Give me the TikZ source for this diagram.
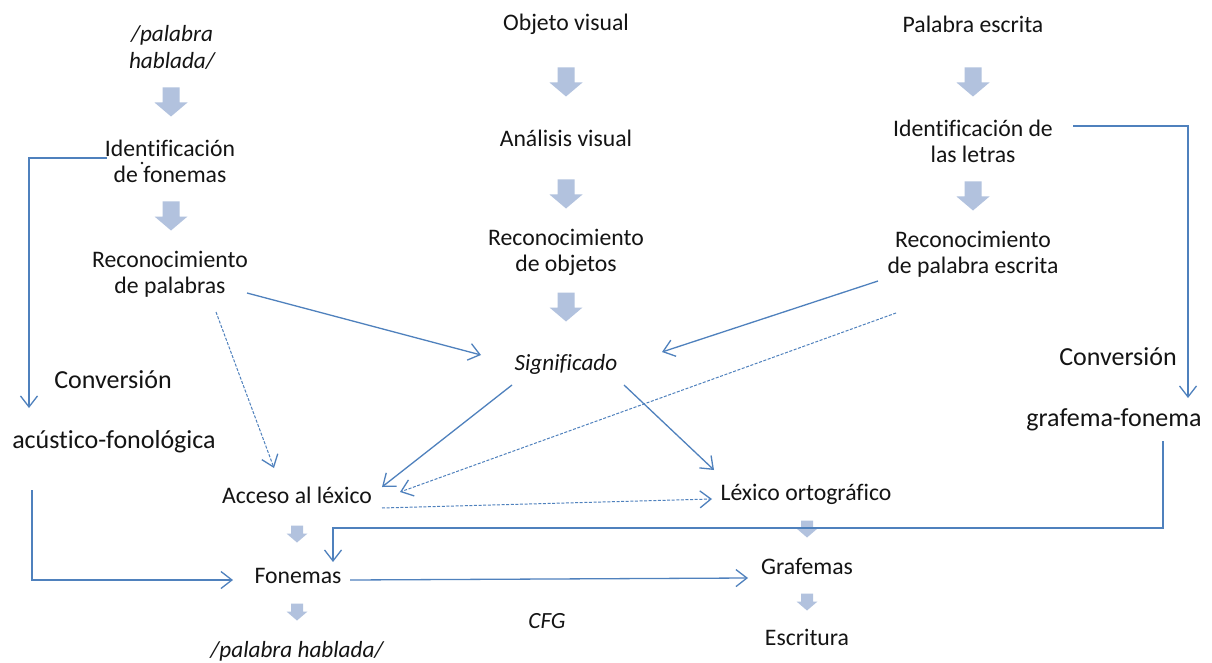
\documentclass[tikz,border=0pt]{standalone}
\usepackage{fontspec}
\setmainfont[Ligatures=NoCommon]{Carlito}
\usetikzlibrary{arrows.meta}
\definecolor{linecol}{RGB}{79,129,189}
\definecolor{blockcol}{RGB}{178,194,222}
\definecolor{txtcol}{RGB}{20,20,20}
\tikzset{
  lbl/.style={text=txtcol, align=center, inner sep=0pt, font=\fontsize{23.7}{26}\selectfont},
  lblit/.style={lbl, font=\fontsize{23.2}{27}\selectfont\itshape},
  lblbig/.style={lbl, font=\fontsize{26}{30}\selectfont},
  conn/.style={draw=linecol, line width=1.3pt, -{Straight Barb[length=11pt,width=17pt,line width=1.3pt]}},
  dconn/.style={conn, line width=1pt, dash pattern=on 3pt off 1.6pt},
  bigarrow/.pic={\fill[blockcol] (-8.5,-14.5) -- (8.5,-14.5) -- (8.5,0.5) -- (16.5,0.5) -- (0,14.5) -- (-16.5,0.5) -- (-8.5,0.5) -- cycle;},
  smallarrow/.pic={\fill[blockcol] (-6,-8.5) -- (6,-8.5) -- (6,-0.5) -- (10.5,-0.5) -- (0,8.5) -- (-10.5,-0.5) -- (-6,-0.5) -- cycle;}
}
\begin{document}
\begin{tikzpicture}[x=1pt,y=-1pt]
\useasboundingbox (0,0) rectangle (1212,663);
\fill[white] (0,0) rectangle (1212,663);
% left column
\node[lblit] (pal1) at (172,47) {/palabra\\hablada/};
\pic at (171,102) {bigarrow};
\node[lbl] (idf) at (170,161) {Identificación\\de fonemas};
\fill[txtcol] (142,163) circle (1.3);
\pic at (171,216) {bigarrow};
\node[lbl] (recp) at (170,274) {Reconocimiento\\de palabras};
% middle column
\node[lbl] (obj) at (566,24) {Objeto visual};
\pic at (566,82) {bigarrow};
\node[lbl] (anv) at (566,138) {Análisis visual};
\pic at (566,194) {bigarrow};
\node[lbl] (reco) at (566,252) {Reconocimiento\\de objetos};
\pic at (566,307) {bigarrow};
\node[lblit] (sig) at (566,364) {Significado};
% right column
\node[lbl] (pe) at (973,24) {Palabra escrita};
\pic at (973,82) {bigarrow};
\node[lbl] (idl) at (973,141) {Identificación de\\las letras};
\pic at (973,196) {bigarrow};
\node[lbl] (rpe) at (973,254) {Reconocimiento\\de palabra escrita};
% side labels
\node[lblbig] (conv1) at (113,380) {Conversión};
\node[lblbig] (acf) at (114,442) {acústico-fonológica};
\node[lblbig] (conv2) at (1118,357) {Conversión};
\node[lblbig] (gf) at (1114,420) {grafema-fonema};
% bottom
\node[lbl] (acc) at (297,495) {Acceso al léxico};
\pic at (297,534) {smallarrow};
\node[lbl] (fon) at (298,576) {Fonemas};
\pic at (297,612) {smallarrow};
\node[lblit] (pph) at (297,651) {/palabra hablada/};
\node[lbl] (lo) at (806,494) {Léxico ortográfico};
\pic at (807,529) {smallarrow};
\node[lbl] (graf) at (807,566) {Grafemas};
\pic at (807,602) {smallarrow};
\node[lbl] (esc) at (807,637) {Escritura};
\node[lblit] (cfg) at (547,621) {CFG};
% connectors
\draw[conn] ([shift={(77,19)}]recp.center) -- ([shift={(-85,-9)}]sig.center);
\draw[dconn] ([shift={(46,38)}]recp.center) -- ([shift={(-23,-27)}]acc.center);
\draw[conn] ([shift={(-54,21)}]sig.center) -- ([shift={(85,-8)}]acc.center);
\draw[conn] ([shift={(-95,27)}]rpe.center) -- ([shift={(96,-12)}]sig.center);
\draw[dconn] ([shift={(-77,59)}]rpe.center) -- ([shift={(103,-3)}]acc.center);
\draw[conn] ([shift={(58,21)}]sig.center) -- ([shift={(-92,-24)}]lo.center);
\draw[dconn] ([shift={(85,13)}]acc.center) -- ([shift={(-94,5)}]lo.center);
\draw[conn] ([shift={(52,4)}]fon.center) -- ([shift={(-59,12)}]graf.center);
\draw[conn] ([shift={(-63,-3)}]idf.center) -| ([shift={(-85,-34)}]acf.center);
\draw[conn] ([shift={(-82,48)}]acf.center) |- ([shift={(-65,4)}]fon.center);
\draw[conn] ([shift={(100,-15)}]idl.center) -| ([shift={(74,-22)}]gf.center);
\draw[conn] ([shift={(49,21)}]gf.center) -- ++(0,87) -| ([shift={(35,-14)}]fon.center);
\end{tikzpicture}
\end{document}
